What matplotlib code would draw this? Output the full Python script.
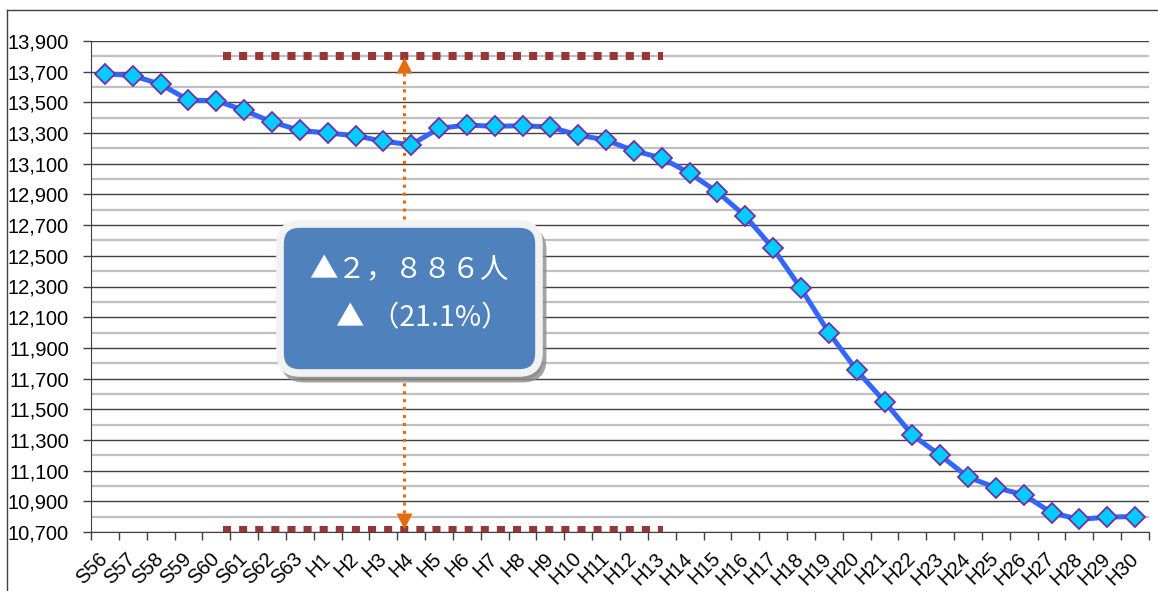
import matplotlib
matplotlib.use("Agg")
import matplotlib.pyplot as plt
from matplotlib.patches import FancyBboxPatch
from matplotlib.lines import Line2D
from matplotlib.ticker import FixedLocator, FuncFormatter

# 年度ラベル（昭和56年〜平成30年）
years = ["S56", "S57", "S58", "S59", "S60", "S61", "S62", "S63"] + \
        [f"H{i}" for i in range(1, 31)]

# 人口の推移（人）
population = [13687, 13674, 13618, 13515, 13511, 13448, 13372, 13318,
              13300, 13283, 13246, 13224, 13331, 13352, 13344, 13348,
              13339, 13287, 13254, 13185, 13137, 13039, 12915, 12759,
              12548, 12287, 12000, 11754, 11550, 11332, 11200, 11058,
              10989, 10943, 10826, 10782, 10797, 10801]

y_major = list(range(10700, 13901, 200))
y_minor = list(range(10800, 13801, 200))

# 基準線（上・下）と矢印の位置
ref_top = 13800
ref_bottom = 10712
ref_span = (4.24, 20.06)
arrow_x = 10.75
arrow_top = 13745
arrow_bottom = 10770

change_text = "▲２，８８６人"
rate_text = "▲ （21.1%）"

plt.rcParams["font.family"] = ["Liberation Sans", "DejaVu Sans"]

W, H, DPI = 1158, 591, 100
fig = plt.figure(figsize=(W / DPI, H / DPI), dpi=DPI)
ax = fig.add_axes([91 / W, 1 - 532 / H, (1149 - 91) / W, (532 - 41) / H])

x = list(range(len(years)))

# grid lines
for v in y_minor:
    ax.axhline(v, color="#BFBFBF", lw=1.6, zorder=1)
for v in y_major:
    ax.axhline(v, color="#404040", lw=1.0, zorder=1.2)

# reference lines drawn as square dots
for yv in (ref_top, ref_bottom):
    ax.plot(ref_span, [yv, yv], color="#953735", lw=5.8,
            linestyle=(0, (1, 1)), solid_capstyle="butt",
            dash_capstyle="butt", zorder=3)

# dotted double arrow
ax.plot([arrow_x, arrow_x], [arrow_top, arrow_bottom], color="#E46C0A",
        lw=2.2, linestyle=(0, (1, 1.6)), zorder=3)
ax.plot([arrow_x], [arrow_top], marker="^", ms=11, color="#E46C0A",
        mec="none", zorder=4)
ax.plot([arrow_x], [arrow_bottom], marker="v", ms=11, color="#E46C0A",
        mec="none", zorder=4)

# population line
ax.plot(x, population, color="#3366FF", lw=3.6, zorder=5,
        marker="D", ms=10, mfc="#00CCFF", mec="#7030A0", mew=1.3)

ax.set_xlim(-0.5, len(years) - 0.5)
ax.set_ylim(10700, 13900)

ax.yaxis.set_major_locator(FixedLocator(y_major))
ax.yaxis.set_major_formatter(FuncFormatter(lambda v, p: f"{int(v):,}"))
ax.tick_params(axis="y", which="major", direction="out", length=6,
               width=1, color="#404040", pad=10, labelsize=14.5)

ax.set_xticks(x)
ax.set_xticklabels(years, rotation=45, ha="right", va="center",
                   rotation_mode="anchor")
ax.xaxis.set_minor_locator(FixedLocator([i - 0.5 for i in range(len(years) + 1)]))
ax.tick_params(axis="x", which="major", length=0, pad=17, labelsize=14.5)
ax.tick_params(axis="x", which="minor", direction="out", length=6,
               width=1, color="#404040")

for side in ("top", "right"):
    ax.spines[side].set_visible(False)
ax.spines["left"].set_color("#404040")
ax.spines["bottom"].set_color("#404040")

# annotation box (shadow, border, body)
def to_in(px_x, px_y):
    return px_x / DPI, (H - px_y) / DPI

bx0, by0 = to_in(280, 373)
bx1, by1 = to_in(539, 224)
shadow = FancyBboxPatch((bx0 + 0.04, by0 - 0.06), bx1 - bx0, by1 - by0,
                        boxstyle="round,pad=0,rounding_size=0.2",
                        transform=fig.dpi_scale_trans, fc="#8C8C8C",
                        ec="#8C8C8C", lw=5, alpha=0.8, zorder=10)
body = FancyBboxPatch((bx0, by0), bx1 - bx0, by1 - by0,
                      boxstyle="round,pad=0,rounding_size=0.2",
                      transform=fig.dpi_scale_trans, fc="#4F81BD",
                      ec="#F2F2F2", lw=5.5, zorder=11)
fig.patches.extend([shadow, body])

cjk = ["Noto Sans CJK JP", "DejaVu Sans"]
fig.text(*to_in(409, 270), change_text, transform=fig.dpi_scale_trans,
         ha="center", va="center", color="white", fontsize=20.5,
         family=cjk, zorder=12)
fig.text(*to_in(423, 318), rate_text, transform=fig.dpi_scale_trans,
         ha="center", va="center", color="white", fontsize=20.5,
         family=cjk, zorder=12)

# chart frame
fig.add_artist(Line2D([7 / W, 1], [1 - 10 / H, 1 - 10 / H],
                      transform=fig.transFigure, color="#404040", lw=1))
fig.add_artist(Line2D([7 / W, 7 / W], [0, 1 - 10 / H],
                      transform=fig.transFigure, color="#404040", lw=1))

fig.savefig("out.png", dpi=DPI)
